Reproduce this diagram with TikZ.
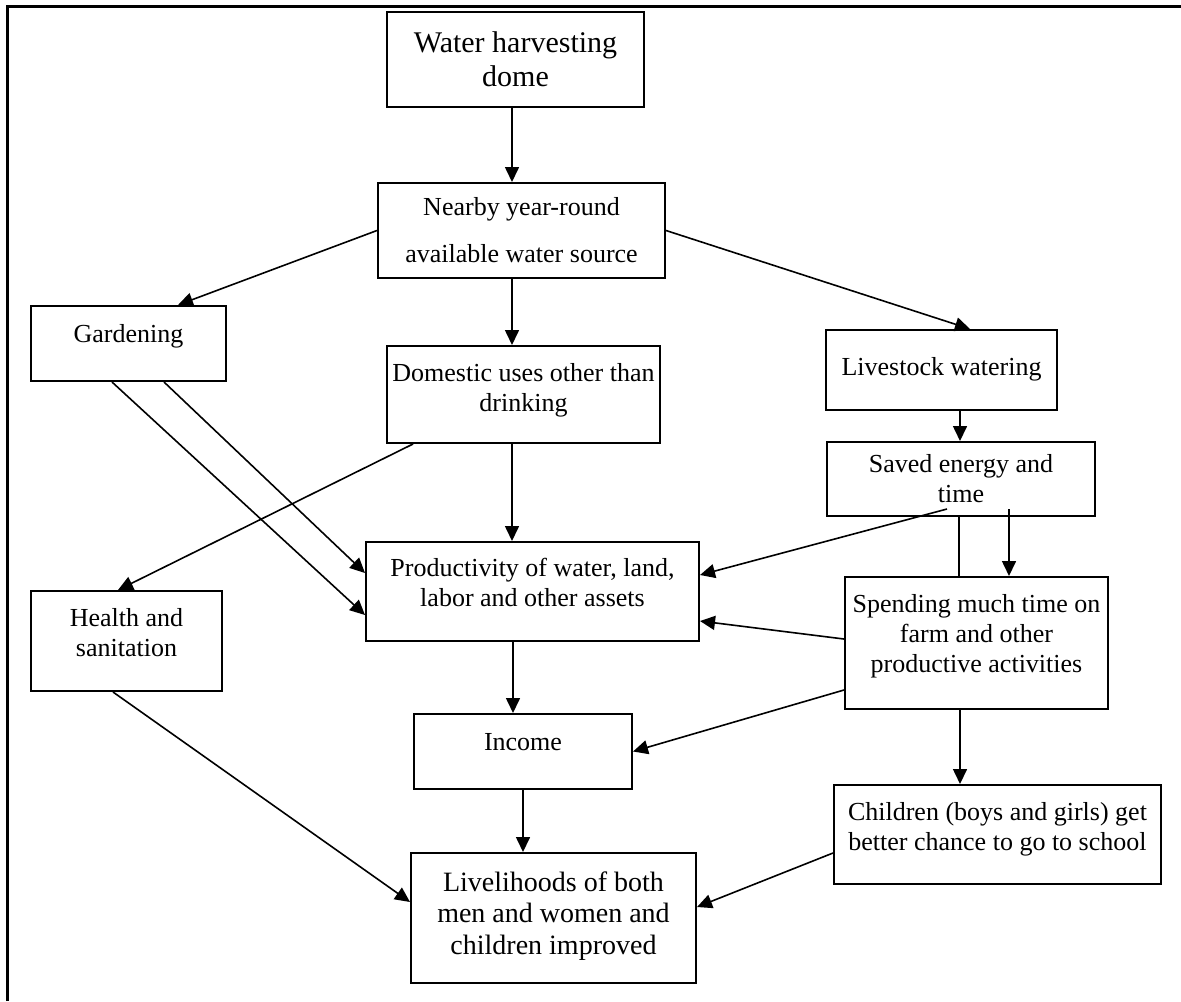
\documentclass[tikz,border=0pt]{standalone}
\usepackage{fontspec}
\setmainfont{Liberation Serif}
\usetikzlibrary{arrows.meta}

\tikzset{
  box/.style={draw, line width=1pt, align=center, inner sep=2pt,
    font=\fontsize{13}{15}\selectfont},
  arr/.style={-{Triangle[length=7.5pt,width=7pt]}, line width=0.8pt},
  lift/.style={text depth=#1},
}

\begin{document}
\begin{tikzpicture}[x=0.5pt,y=-0.5pt]
   \useasboundingbox (0,0) rectangle (1181,1001);
   \draw[line width=1.5pt] (7.5,1001) -- (7.5,6.5) -- (1181,6.5);
   % boxes
   \node[box, minimum width=128.5pt, minimum height=47.5pt, font=\fontsize{15}{17}\selectfont] (dome) at (515.5,59.5) {Water harvesting\\dome};
   \node[box, minimum width=143.5pt, minimum height=47.5pt, font=\fontsize{13}{23.5}\selectfont] (source) at (521.5,230.5) {Nearby year-round\\available water source};
   \node[box, minimum width=97.5pt,  minimum height=37.5pt, lift=10pt] (garden)    at (128.5,343.5) {Gardening};
   \node[box, minimum width=136.5pt, minimum height=48.5pt, lift=7.5pt] (domestic) at (523.5,394.5) {Domestic uses other than\\drinking};
   \node[box, minimum width=115.5pt, minimum height=40pt,   lift=4pt]  (livestock) at (941.5,370)   {Livestock watering};
   \node[box, minimum width=134pt,   minimum height=37pt] (saved)  at (961,479)     {Saved energy and\\time};
   \node[box, minimum width=166.5pt, minimum height=49.5pt, lift=9pt]  (prod)   at (532.5,591.5) {Productivity of water, land,\\labor and other assets};
   \node[box, minimum width=131.5pt, minimum height=66pt,   lift=10pt] (spend)  at (976.5,643)   {Spending much time on\\farm and other\\productive activities};
   \node[box, minimum width=95.5pt,  minimum height=50pt,   lift=9pt]  (health) at (126.5,641)   {Health and\\sanitation};
   \node[box, minimum width=109pt,   minimum height=37.5pt, lift=10pt] (income) at (523,751.5)   {Income};
   \node[box, minimum width=163.5pt, minimum height=49.5pt, lift=8pt]  (children) at (997.5,834.5) {Children (boys and girls) get\\better chance to go to school};
   \node[box, minimum width=142.5pt, minimum height=65pt,   lift=5pt, font=\fontsize{14}{15.75}\selectfont] (liveli) at (553.5,918) {Livelihoods of both\\men and women and\\children improved};
   % connectors
   \draw[arr] ([xshift=-1.75pt]dome.south) -- ([xshift=-1.75pt]dome.south |- source.north);
   \draw[arr] (source.west) -- ([xshift=24.75pt]garden.north);
   \draw[arr] ([xshift=-4.75pt]source.south) -- ([xshift=-4.75pt]source.south |- domestic.north);
   \draw[arr] (source.east) -- ([xshift=14.25pt]livestock.north);
   \draw[arr] ([xshift=9.25pt]livestock.south) -- ([xshift=9.25pt]livestock.south |- saved.north);
   \draw[arr] ([xshift=-8.25pt]garden.south) -- ([yshift=-11.75pt]prod.west);
   \draw[arr] ([xshift=17.75pt]garden.south) -- ([yshift=9.25pt]prod.west);
   \draw[arr] ([xshift=13.5pt]domestic.south west) -- ([xshift=-4.25pt]health.north);
   \draw[arr] ([xshift=-5.75pt]domestic.south) -- ([xshift=-5.75pt]domestic.south |- prod.north);
   \draw[arr] ([xshift=-7pt,yshift=4pt]saved.south) -- ([yshift=8.25pt]prod.east);
   \draw[arr] ([xshift=24pt,yshift=4pt]saved.south) -- ([xshift=24pt]saved.south |- spend.north);
   \draw[line width=0.8pt] ([xshift=-1pt]saved.south) -- ([xshift=-1pt]saved.south |- spend.north);
   \draw[arr] ([yshift=2pt]spend.west) -- ([yshift=-14.75pt]prod.east);
   \draw[arr] ([yshift=-23.5pt]spend.west) -- (income.east);
   \draw[arr] ([xshift=-8.25pt]spend.south) -- ([xshift=-8.25pt]spend.south |- children.north);
   \draw[arr] ([xshift=-9.75pt]prod.south) -- ([xshift=-9.75pt]prod.south |- income.north);
   \draw[arr] (income.south) -- (income.south |- liveli.north);
   \draw[arr] ([xshift=-6.75pt]health.south) -- ([yshift=8pt]liveli.west);
   \draw[arr] ([yshift=-9.25pt]children.west) -- ([yshift=5.5pt]liveli.east);
\end{tikzpicture}
\end{document}
